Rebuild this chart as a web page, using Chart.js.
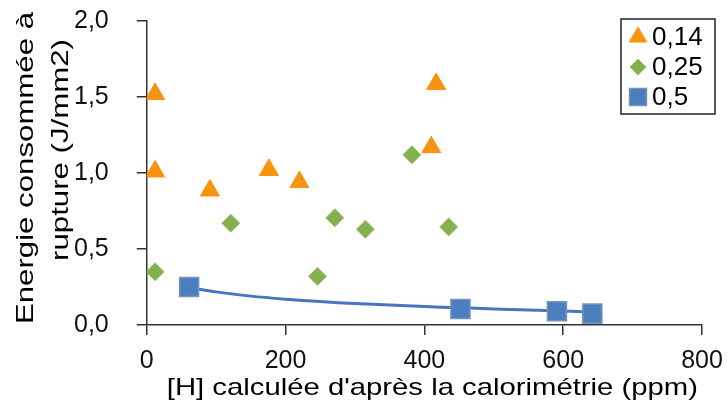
<!DOCTYPE html>
<html>
<head>
<meta charset="utf-8">
<script src="https://cdn.jsdelivr.net/npm/chart.js@4/dist/chart.umd.min.js"></script>
<style>
  html, body { margin: 0; padding: 0; background: #fff; }
  #c { display: block; }
</style>
</head>
<body>
<canvas id="c" width="728" height="408"></canvas>
<script>
// data
const seriesLabels = ['0,14', '0,25', '0,5'];

const x014 = [12, 12, 91, 176, 220, 410, 417];
const y014 = [1.52, 1.01, 0.885, 1.02, 0.94, 1.17, 1.585];

const x025 = [12, 121, 246, 271, 315, 382, 435];
const y025 = [0.35, 0.67, 0.32, 0.705, 0.63, 1.12, 0.645];

const x05 = [61, 452, 591, 642];
const y05 = [0.25, 0.105, 0.09, 0.075];

// trend line through the 0,5 series, read at a few x positions
const trendX = [61, 100, 150, 200, 250, 300, 350, 400, 450, 500, 550, 600, 642];
const trendY = [0.246, 0.218, 0.19, 0.17, 0.154, 0.141, 0.131, 0.122, 0.113, 0.106, 0.099, 0.092, 0.084];

const xTicks = [0, 200, 400, 600, 800];
const yTicks = [0, 0.5, 1, 1.5, 2];

const xTitle = "[H] calculée d'après la calorimétrie (ppm)";
const yTitle = ['Energie consommée à', 'rupture (J/mm2)'];

function pts(xs, ys) {
    return xs.map((x, i) => ({x: x, y: ys[i]}));
}

const FONT = '"Liberation Sans", Arial, sans-serif';

// axis titles drawn a bit stretched, like in the original picture
const axisTitles = {
    id: 'axisTitles',
    afterDraw(chart) {
        const ctx = chart.ctx;
        const a = chart.chartArea;
        ctx.save();
        ctx.fillStyle = '#000';
        ctx.font = '24px ' + FONT;
        ctx.textAlign = 'center';
        ctx.textBaseline = 'alphabetic';

        ctx.save();
        ctx.translate((a.left + a.right) / 2 + 8, 395);
        ctx.scale(1.22, 1);
        ctx.fillText(xTitle, 0, 0);
        ctx.restore();

        const lines = [[33, 168], [68, 150]];
        yTitle.forEach((t, i) => {
            ctx.save();
            ctx.translate(lines[i][0], lines[i][1]);
            ctx.rotate(-Math.PI / 2);
            ctx.scale(1.3, 1);
            ctx.fillText(t, 0, 0);
            ctx.restore();
        });
        ctx.restore();
    }
};

// legend box in the upper right corner
const boxLegend = {
    id: 'boxLegend',
    afterDraw(chart) {
        const ctx = chart.ctx;
        const left = 621, top = 19, w = 94, h = 95;
        ctx.save();
        ctx.strokeStyle = '#222';
        ctx.lineWidth = 1.5;
        ctx.fillStyle = '#fff';
        ctx.fillRect(left, top, w, h);
        ctx.strokeRect(left, top, w, h);
        const radii = [10, 8, 12];
        for (let i = 0; i < seriesLabels.length; i++) {
            const ds = chart.data.datasets[i];
            const cy = top + 18 + i * 30;
            ctx.fillStyle = ds.backgroundColor;
            ctx.strokeStyle = ds.borderColor;
            ctx.lineWidth = ds.borderWidth;
            Chart.helpers.drawPoint(ctx, {
                pointStyle: ds.pointStyle,
                radius: radii[i],
                rotation: 0,
                borderWidth: ds.borderWidth
            }, 638, cy);
            ctx.fillStyle = '#000';
            ctx.font = '26px ' + FONT;
            ctx.textAlign = 'left';
            ctx.textBaseline = 'middle';
            ctx.fillText(seriesLabels[i], 652, cy + 1);
        }
        ctx.restore();
    }
};

const whiteBg = {
    id: 'whiteBg',
    beforeDraw(chart) {
        const ctx = chart.ctx;
        ctx.save();
        ctx.fillStyle = '#fff';
        ctx.fillRect(0, 0, chart.width, chart.height);
        ctx.restore();
    }
};

const data = {
    datasets: [
        {
            label: seriesLabels[0],
            data: pts(x014, y014),
            pointStyle: 'triangle',
            pointRadius: 11,
            backgroundColor: '#F7940F',
            borderColor: '#F7940F',
            borderWidth: 1
        },
        {
            label: seriesLabels[1],
            data: pts(x025, y025),
            pointStyle: 'rectRot',
            pointRadius: 9,
            backgroundColor: '#85B04E',
            borderColor: '#9DBF6E',
            borderWidth: 1
        },
        {
            label: seriesLabels[2],
            data: pts(x05, y05),
            pointStyle: 'rect',
            pointRadius: 13.5,
            backgroundColor: '#4A7EBE',
            borderColor: '#7895B8',
            borderWidth: 1.5
        },
        {
            label: 'tendance',
            data: pts(trendX, trendY),
            showLine: true,
            pointRadius: 0,
            borderColor: '#4874C0',
            borderWidth: 3,
            tension: 0.3,
            fill: false
        }
    ]
};

const config = {
    type: 'scatter',
    data: data,
    options: {
        responsive: false,
        devicePixelRatio: 1,
        animation: false,
        layout: {autoPadding: false, padding: {left: 46, right: 26, top: 21, bottom: 21}},
        plugins: {
            legend: {display: false},
            tooltip: {enabled: false}
        },
        scales: {
            x: {
                type: 'linear',
                min: xTicks[0],
                max: xTicks[xTicks.length - 1],
                afterBuildTicks: (s) => { s.ticks = xTicks.map(v => ({value: v})); },
                afterFit: (s) => { s.paddingLeft = 0; s.paddingRight = 0; },
                grid: {display: true, drawOnChartArea: false, drawTicks: true, tickLength: 10, color: '#333', lineWidth: 1.5},
                border: {display: true, color: '#333', width: 1.5},
                ticks: {
                    padding: 11,
                    color: '#111',
                    font: {family: FONT, size: 25},
                    maxRotation: 0
                }
            },
            y: {
                type: 'linear',
                min: yTicks[0],
                max: yTicks[yTicks.length - 1],
                afterBuildTicks: (s) => { s.ticks = yTicks.map(v => ({value: v})); },
                afterFit: (s) => { s.paddingTop = 0; s.paddingBottom = 0; },
                grid: {display: true, drawOnChartArea: false, drawTicks: true, tickLength: 10, color: '#333', lineWidth: 1.5},
                border: {display: true, color: '#333', width: 1.5},
                ticks: {
                    padding: 28,
                    color: '#111',
                    font: {family: FONT, size: 25},
                    callback: (v) => v.toFixed(1).replace('.', ',')
                }
            }
        }
    },
    plugins: [whiteBg, axisTitles, boxLegend]
};

let c = document.getElementById('c').getContext('2d');
new Chart(c, config);
</script>
</body>
</html>
